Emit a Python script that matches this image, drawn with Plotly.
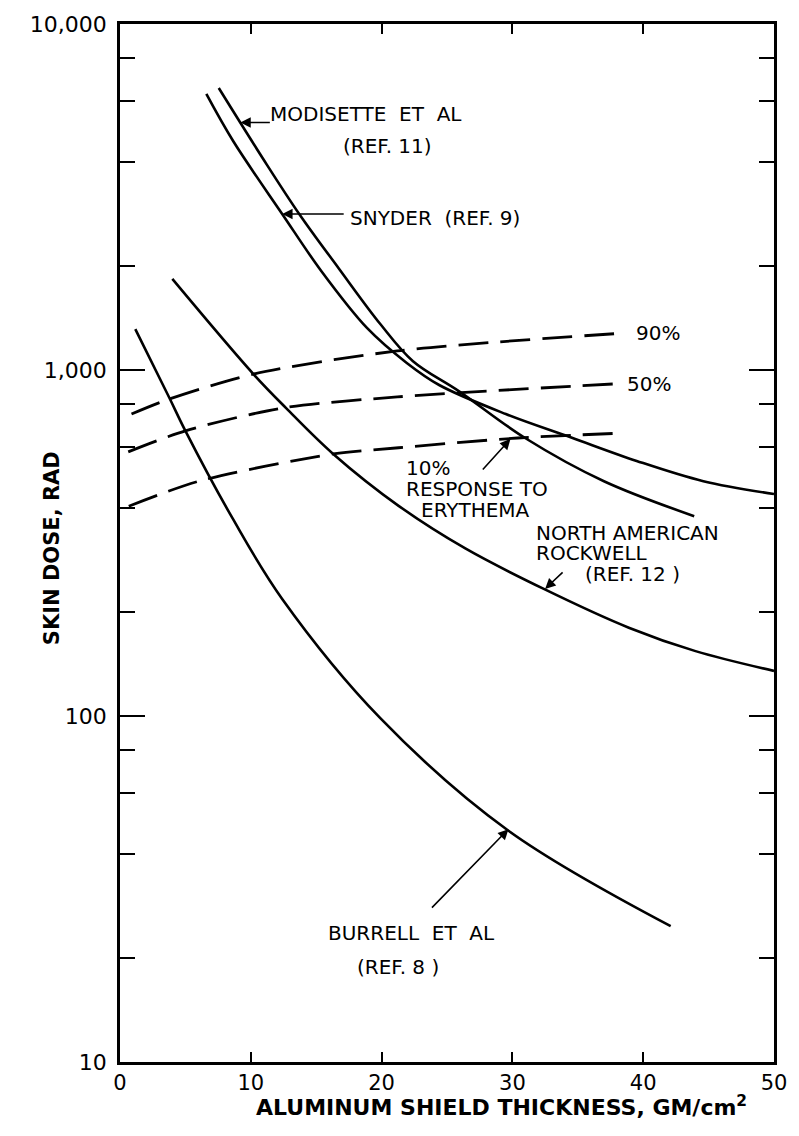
import math
import plotly.graph_objects as go

# ---- data (x: GM/cm^2, y: skin dose, rad) ----
modisette_x = [7.55, 10.9, 13.7, 16.7, 19.9, 22.4, 25.9, 31.0, 37.0, 43.9]
modisette_y = [6530, 4100, 2825, 1972, 1358, 1060, 869, 635, 477, 378]

snyder_x = [6.6, 8.65, 12.4, 15.4, 18.9, 21.9, 24.4, 29.5, 34.5, 39.5, 44.6, 50.0]
snyder_y = [6280, 4590, 2825, 1930, 1321, 1050, 905, 746, 638, 546, 477, 438]

nar_x = [4.0, 10.2, 12.7, 16.3, 21.3, 26.4, 32.4, 38.9, 44.0, 50.0]
nar_y = [1833, 973, 776, 572, 405, 305, 233, 180, 154, 135]

burrell_x = [1.17, 3.78, 5.0, 8.6, 12.4, 19.9, 29.7, 42.1]
burrell_y = [1313, 830, 667, 373, 218, 98.6, 46.6, 24.7]

p90_x = [0.88, 3.76, 10.2, 21.2, 38.6]
p90_y = [746, 824, 973, 1135, 1279]

p50_x = [0.63, 5.0, 12.4, 21.2, 37.9]
p50_y = [580, 667, 776, 836, 912]

p10_x = [0.67, 6.1, 16.3, 21.3, 30.4, 38.4]
p10_y = [404, 478, 572, 596, 636, 657]

x_ticks = [0, 10, 20, 30, 40, 50]
x_ticktext = ["0", "10", "20", "30", "40", "50"]
y_ticks = [10, 100, 1000, 10000]
y_ticktext = ["10", "100", "1,000", "10,000"]
y_minor = [20, 40, 60, 80, 200, 400, 600, 800, 2000, 4000, 6000, 8000]

# ---- figure ----
W, H = 799, 1136
ML, MR, MT, MB = 120, 18, 23, 74
PW, PH = W - ML - MR, H - MT - MB


def px(xp, yp):
    """pixel position -> paper coordinates"""
    return (xp - ML) / PW, (H - MB - yp) / PH


FONT = "DejaVu Sans"
fig = go.Figure()

solid = dict(color="black", width=2.6, shape="spline", smoothing=1.0)
dashed = dict(color="black", width=2.8, shape="spline", smoothing=0.8, dash="30px,12px")

for xs, ys in [(modisette_x, modisette_y), (snyder_x, snyder_y),
               (nar_x, nar_y), (burrell_x, burrell_y)]:
    fig.add_trace(go.Scatter(x=xs, y=ys, mode="lines", line=solid,
                             showlegend=False, hoverinfo="skip"))
for xs, ys in [(p90_x, p90_y), (p50_x, p50_y), (p10_x, p10_y)]:
    fig.add_trace(go.Scatter(x=xs, y=ys, mode="lines", line=dashed,
                             showlegend=False, hoverinfo="skip"))

annotations = []

# text labels (left edge pixel x, centre pixel y)
labels = [
    ("MODISETTE  ET  AL", 270, 113),
    ("(REF. 11)", 343, 145),
    ("SNYDER  (REF. 9)", 350, 217),
    ("90%", 640, 332),
    ("50%", 630, 383),
    ("10%", 407, 467),
    ("RESPONSE TO", 407, 488),
    ("ERYTHEMA", 422, 509),
    ("NORTH AMERICAN", 538, 532),
    ("ROCKWELL", 538, 553),
    ("(REF. 12 )", 588, 574),
    ("BURRELL  ET  AL", 328, 933),
    ("(REF. 8 )", 358, 967),
]
for t, xp, yp in labels:
    ax_, ay_ = px(xp, yp)
    annotations.append(dict(text=t, x=ax_, y=ay_, xref="paper", yref="paper",
                            xanchor="left", yanchor="middle", showarrow=False,
                            font=dict(family=FONT, size=20, color="black")))

# pointer arrows: tip in data coords (x, dose), tail offset in pixels
arrows = [
    (9.2, 5190, 31, 0),
    (12.4, 2825, 63, 0),
    (29.85, 632, -29, 32),
    (32.5, 233, 19, -18),
    (29.7, 47.1, -78, 80),
]
for x, y, dx, dy in arrows:
    annotations.append(dict(text="", x=x, y=math.log10(y), xref="x", yref="y",
                            ax=dx, ay=dy, axref="pixel", ayref="pixel",
                            showarrow=True, arrowhead=2, arrowsize=1.3,
                            arrowwidth=1.6, arrowcolor="black",
                            standoff=0, startstandoff=0))

# axis titles
tx, ty = px(52, 548)
annotations.append(dict(text="<b>SKIN DOSE, RAD</b>", x=tx, y=ty, xref="paper",
                        yref="paper", textangle=-90, showarrow=False,
                        xanchor="center", yanchor="middle",
                        font=dict(family=FONT, size=21, color="black")))
tx, ty = px(506, 1106)
annotations.append(dict(text="<b>ALUMINUM SHIELD THICKNESS, GM/cm<sup>2</sup></b>",
                        x=tx, y=ty, xref="paper", yref="paper", showarrow=False,
                        xanchor="center", yanchor="middle",
                        font=dict(family=FONT, size=22, color="black")))

fig.update_layout(
    width=W, height=H,
    margin=dict(l=ML, r=MR, t=MT, b=MB),
    paper_bgcolor="white", plot_bgcolor="white",
    annotations=annotations,
    showlegend=False,
    xaxis=dict(range=[0, 50], tickmode="array", tickvals=x_ticks,
               ticktext=x_ticktext, ticks="inside", ticklen=10, tickwidth=2,
               tickcolor="black", showline=True, linecolor="black",
               linewidth=2.6, mirror="ticks", showgrid=False, zeroline=False,
               tickfont=dict(family=FONT, size=21, color="black"),
               ticklabelstandoff=0),
    yaxis=dict(type="log", range=[1, 4], tickmode="array", tickvals=y_ticks,
               ticktext=y_ticktext, ticks="inside", ticklen=25, tickwidth=2.2,
               tickcolor="black", showline=True, linecolor="black",
               linewidth=2.6, mirror="ticks", showgrid=False, zeroline=False,
               tickfont=dict(family=FONT, size=22, color="black"),
               ticklabelstandoff=6,
               minor=dict(tickmode="array", tickvals=y_minor, ticks="inside",
                          ticklen=15, tickwidth=2.4, tickcolor="black",
                          showgrid=False)),
)

fig.write_html("out.html")
